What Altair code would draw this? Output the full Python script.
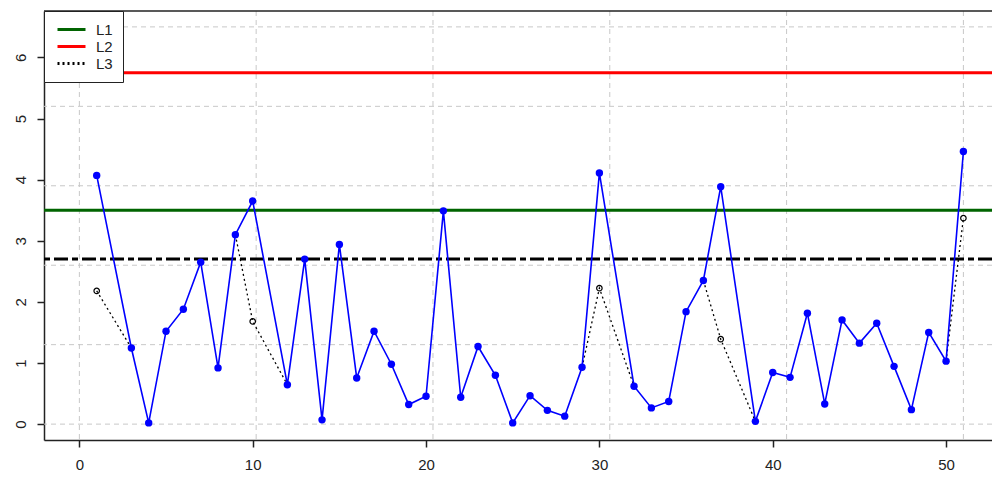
import altair as alt
import pandas as pd

# Main (blue) series
x_main = [1, 3, 4, 5, 6, 7, 8, 9, 10, 12, 13, 14, 15, 16, 17, 18, 19, 20, 21, 22, 23, 24, 25,
          26, 27, 28, 29, 30, 32, 33, 34, 35, 36, 37, 39, 40, 41, 42, 43, 44, 45, 46, 47, 48,
          49, 50, 51]
y_main = [4.07, 1.245, 0.02, 1.52, 1.88, 2.65, 0.92, 3.10, 3.65, 0.645, 2.70, 0.07, 2.94, 0.755,
          1.52, 0.98, 0.32, 0.455, 3.49, 0.44, 1.27, 0.80, 0.02, 0.465, 0.225, 0.13, 0.93, 4.11,
          0.62, 0.265, 0.37, 1.84, 2.35, 3.885, 0.045, 0.845, 0.765, 1.815, 0.33, 1.705, 1.325,
          1.65, 0.945, 0.237, 1.50, 1.03, 4.46]

# Dotted (L3) corrected segments
seg_id = [1, 1, 2, 2, 2, 3, 3, 3, 4, 4, 4, 5, 5]
seg_x = [1, 3, 9, 10, 12, 29, 30, 32, 36, 37, 39, 50, 51]
seg_y = [2.18, 1.245, 3.10, 1.68, 0.645, 0.93, 2.225, 0.62, 2.35, 1.39, 0.045, 1.03, 3.37]

# Open circles (corrected values)
open_x = [1, 10, 30, 37, 51]
open_y = [2.18, 1.68, 2.225, 1.39, 3.37]

# Reference lines
ref_names = ["L1", "L2"]
ref_values = [3.5, 5.75]
center_value = [2.7]

# Grid positions
grid_x = [0, 10.2, 20.4, 30.6, 40.8, 51]
grid_y = [0, 1.3, 2.6, 3.9, 5.2, 6.5]

x_ticks = [0, 10, 20, 30, 40, 50]
y_ticks = [0, 1, 2, 3, 4, 5, 6]

legend_names = ["L1", "L2", "L3"]
legend_colors = ["#006400", "#FF0000", "#000000"]
legend_dashes = [[1, 0], [1, 0], [2, 3]]

main_df = pd.DataFrame({"x": x_main, "y": y_main})
seg_df = pd.DataFrame({"seg": seg_id, "x": seg_x, "y": seg_y, "name": "L3"})
open_df = pd.DataFrame({"x": open_x, "y": open_y})
ref_df = pd.DataFrame({"name": ref_names, "y": ref_values})
center_df = pd.DataFrame({"y": center_value})
gx_df = pd.DataFrame({"x": grid_x})
gy_df = pd.DataFrame({"y": grid_y})

xscale = alt.Scale(domain=[-2.04, 52.65], nice=False, zero=False)
yscale = alt.Scale(domain=[-0.26, 6.76], nice=False, zero=False)

xaxis = alt.Axis(values=x_ticks, grid=False, title=None, tickSize=7, tickWidth=1.5,
                 tickColor="#222", domainColor="#222", domainWidth=1.5,
                 labelFontSize=15, labelPadding=10, labelColor="#222", format="d")
yaxis = alt.Axis(values=y_ticks, grid=False, title=None, tickSize=7, tickWidth=1.5,
                 tickColor="#222", domainColor="#222", domainWidth=1.5,
                 labelFontSize=15, labelPadding=9, labelColor="#222", labelAngle=270,
                 labelAlign="center", labelBaseline="bottom", format="d")

color_scale = alt.Scale(domain=legend_names, range=legend_colors)
dash_scale = alt.Scale(domain=legend_names, range=legend_dashes)

legend = alt.Legend(title=None, orient="none", legendX=0, legendY=0,
                    fillColor="white", strokeColor="#222", padding=10,
                    symbolType="M-2,0H2", symbolSize=196, symbolStrokeWidth=3,
                    symbolOffset=9,
                    labelFontSize=15, labelFont="Liberation Sans", labelColor="#222",
                    labelOffset=16, rowPadding=0, cornerRadius=0)

base_x = alt.X("x:Q", scale=xscale, axis=xaxis)
base_y = alt.Y("y:Q", scale=yscale, axis=yaxis)

grid_v = alt.Chart(gx_df).mark_rule(color="#c8c8c8", strokeDash=[5, 4], strokeWidth=1).encode(
    x=alt.X("x:Q", scale=xscale, axis=xaxis))
grid_h = alt.Chart(gy_df).mark_rule(color="#c8c8c8", strokeDash=[5, 4], strokeWidth=1).encode(
    y=alt.Y("y:Q", scale=yscale, axis=yaxis))

refs = alt.Chart(ref_df).mark_rule(strokeWidth=3).encode(
    y=alt.Y("y:Q", scale=yscale, axis=yaxis),
    color=alt.Color("name:N", scale=color_scale, legend=legend),
    strokeDash=alt.StrokeDash("name:N", scale=dash_scale, legend=legend),
)

center = alt.Chart(center_df).mark_rule(strokeWidth=3, color="black",
                                         strokeDash=[14, 4, 6, 4]).encode(
    y=alt.Y("y:Q", scale=yscale, axis=yaxis))

dotted = alt.Chart(seg_df).mark_line(strokeWidth=1.3).encode(
    x=base_x, y=base_y, detail="seg:N",
    color=alt.Color("name:N", scale=color_scale, legend=legend),
    strokeDash=alt.StrokeDash("name:N", scale=dash_scale, legend=legend),
)

blue_line = alt.Chart(main_df).mark_line(color="#0000FF", strokeWidth=1.6).encode(x=base_x, y=base_y)
blue_pts = alt.Chart(main_df).mark_circle(color="#0000FF", size=55, opacity=1).encode(x=base_x, y=base_y)

open_pts = alt.Chart(open_df).mark_point(shape="circle", filled=False, color="black",
                                          strokeWidth=1.2, size=30, opacity=1).encode(
    x=base_x, y=base_y)

top_border = alt.Chart(center_df).mark_rule(color="#222", strokeWidth=1.5).encode(y=alt.value(0))

chart = alt.layer(grid_v, grid_h, refs, center, dotted, blue_line, blue_pts, open_pts, top_border).properties(
    width=948, height=429,
    autosize=alt.AutoSizeParams(type="none"),
    padding={"left": 44, "top": 11, "right": 0, "bottom": 39},
    background="white",
).configure_view(stroke=None).configure_axis(labelFont="Liberation Sans").resolve_scale(
    color="shared", strokeDash="shared")

chart.save("out.html", embed_options={"renderer": "svg", "actions": False})
